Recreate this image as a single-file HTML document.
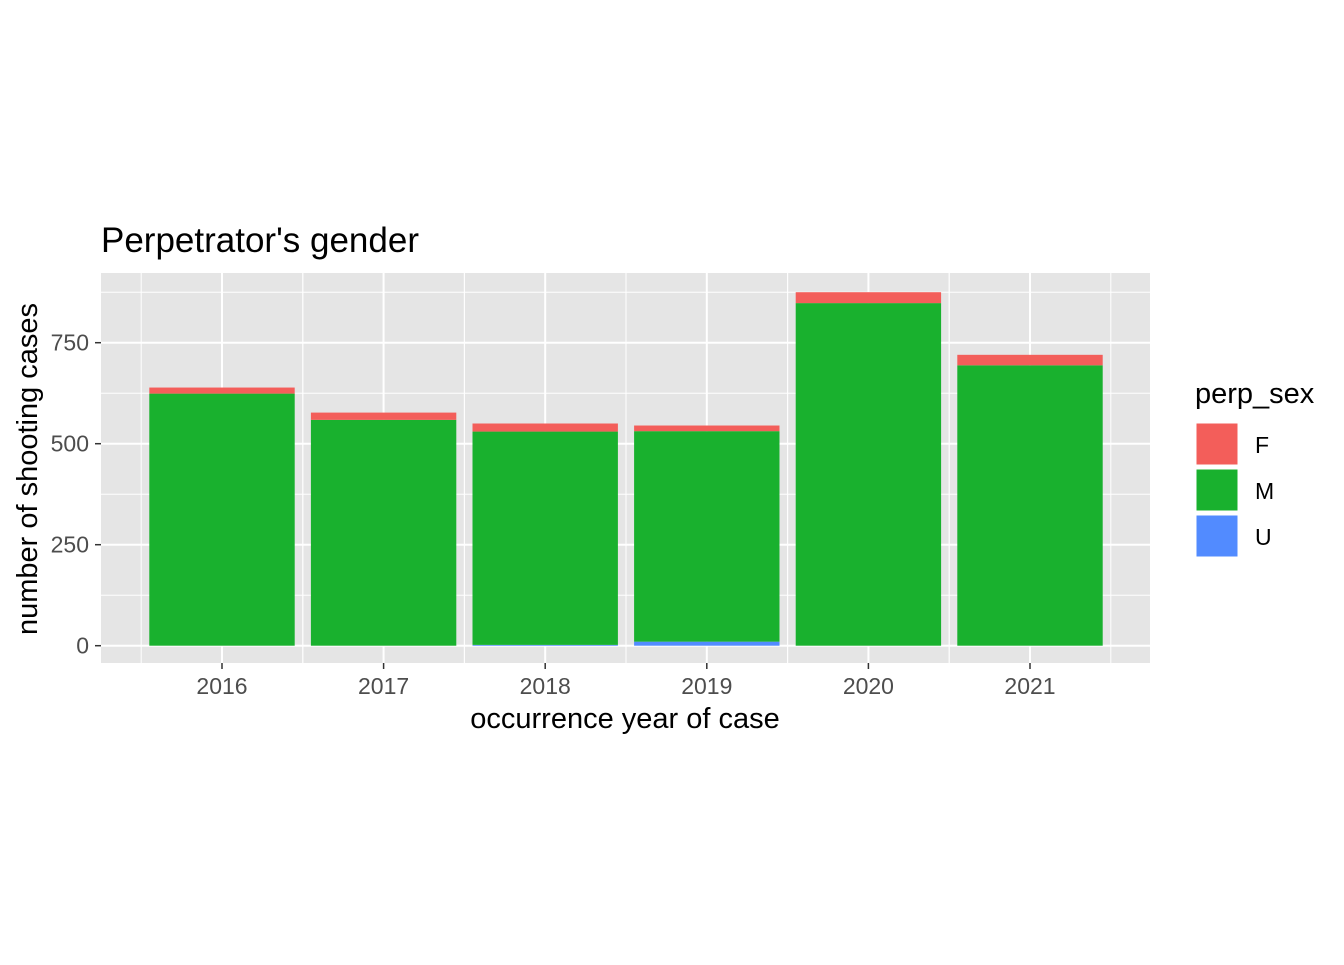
<!DOCTYPE html>
<html><head><meta charset="utf-8"><style>
body{margin:0;background:#fff;}
svg text{font-family:"Liberation Sans",Arial,sans-serif;}
</style></head><body>
<svg id="chart" width="1344" height="960" xmlns="http://www.w3.org/2000/svg">
<rect width="1344" height="960" fill="#fff"/>
<text x="101" y="252" font-size="35" fill="#000">Perpetrator's gender</text>
<rect x="101" y="273" width="1049" height="390" fill="#e5e5e5"/>
<g id="grid"></g><g id="bars"></g><g id="axes"></g>
<text x="625" y="728" font-size="29" text-anchor="middle">occurrence year of case</text>
<text transform="translate(37,469) rotate(-90)" font-size="29" text-anchor="middle">number of shooting cases</text>
<text x="1195" y="403" font-size="29">perp_sex</text>
<g><rect x="1196" y="423" width="42" height="42" fill="#F35E5A" stroke="#fff"/><text x="1255" y="453" font-size="23">F</text></g>
<g><rect x="1196" y="469" width="42" height="42" fill="#19B12E" stroke="#fff"/><text x="1255" y="499" font-size="23">M</text></g>
<g><rect x="1196" y="515" width="42" height="42" fill="#528BFF" stroke="#fff"/><text x="1255" y="545" font-size="23">U</text></g>
</svg>
<script>
const categories=["2016","2017","2018","2019","2020","2021"];
const valuesU=[0,0,2,10,0,0];
const valuesM=[624,559,528,521,848,694];
const valuesF=[15,18,20,14,27,26];
const yTicks=[0,250,500,750];
const yMinor=[125,375,625,875];
const NS="http://www.w3.org/2000/svg";
const y=v=>645.7-v*0.404;
const x=i=>222+i*161.6;
const bw=145.4;
function mk(tag,attrs,parent){const e=document.createElementNS(NS,tag);for(const k in attrs)e.setAttribute(k,attrs[k]);parent.appendChild(e);return e;}
const grid=document.getElementById('grid'),bars=document.getElementById('bars'),axes=document.getElementById('axes');
yMinor.forEach(v=>{const l=mk('line',{x1:101,x2:1150,y1:y(v),y2:y(v),stroke:'#fff','stroke-width':1},grid);

});
categories.forEach((c,i)=>{[x(i)-80.8,x(i)+80.8].forEach(xx=>{const l=mk('line',{x1:xx,x2:xx,y1:273,y2:663,stroke:'#fff','stroke-width':1},grid);

});});
yTicks.forEach(v=>{const l=mk('line',{x1:101,x2:1150,y1:y(v),y2:y(v),stroke:'#fff','stroke-width':2},grid);


const t=mk('line',{x1:95,x2:101,y1:y(v),y2:y(v),stroke:'#333','stroke-width':1.5},axes);


const tx=mk('text',{x:89,y:y(v)+8,'font-size':23,'text-anchor':'end',fill:'#4d4d4d'},axes);tx.textContent=v;

});
categories.forEach((c,i)=>{const l=mk('line',{x1:x(i),x2:x(i),y1:273,y2:663,stroke:'#fff','stroke-width':2},grid);


const t=mk('line',{x1:x(i),x2:x(i),y1:663,y2:669,stroke:'#333','stroke-width':1.5},axes);


const tx=mk('text',{x:x(i),y:694,'font-size':23,'text-anchor':'middle',fill:'#4d4d4d'},axes);tx.textContent=c;


let base=0;
[[valuesU,'#528BFF','u'],[valuesM,'#19B12E','m'],[valuesF,'#F35E5A','f']].forEach(([arr,col,n])=>{
const v=arr[i];if(v<=0)return;
const r=mk('rect',{x:x(i)-bw/2,y:y(base+v),width:bw,height:y(base)-y(base+v),fill:col},bars);


base+=v;});});
</script>
</body></html>
